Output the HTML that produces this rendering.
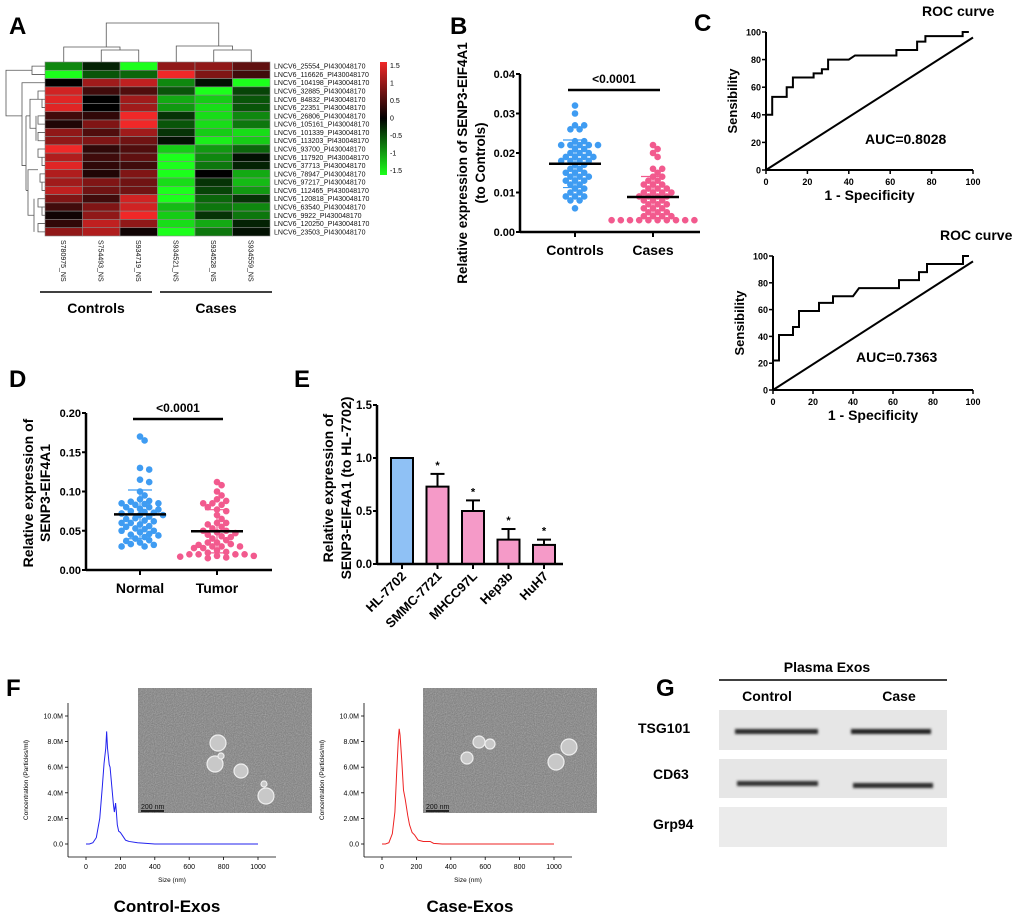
<!DOCTYPE html>
<html><head><meta charset="utf-8"><style>
body{margin:0;background:#fff}
svg{display:block;font-family:"Liberation Sans",Arial,sans-serif}
.b{font-weight:bold}
</style></head><body>
<svg id="fig" width="1020" height="919" viewBox="0 0 1020 919" xmlns="http://www.w3.org/2000/svg">
<defs>
<filter id="noise" x="0" y="0" width="100%" height="100%"><feTurbulence type="fractalNoise" baseFrequency="0.9" numOctaves="2" seed="3"/><feColorMatrix type="saturate" values="0"/><feComponentTransfer><feFuncR type="linear" slope="0.6" intercept="0.2"/><feFuncG type="linear" slope="0.6" intercept="0.2"/><feFuncB type="linear" slope="0.6" intercept="0.2"/></feComponentTransfer></filter>
<linearGradient id="cbar" x1="0" y1="0" x2="0" y2="1"><stop offset="0" stop-color="#f02828"/><stop offset="0.5" stop-color="#000"/><stop offset="1" stop-color="#1cff1c"/></linearGradient>
<filter id="blur"><feGaussianBlur stdDeviation="1.2"/></filter>
</defs>
<text x="9" y="34" font-size="24" class="b">A</text>
<text x="450" y="34" font-size="24" class="b">B</text>
<text x="694" y="31" font-size="24" class="b">C</text>
<text x="9" y="387" font-size="24" class="b">D</text>
<text x="294" y="387" font-size="24" class="b">E</text>
<text x="6" y="696" font-size="24" class="b">F</text>
<text x="656" y="696" font-size="24" class="b">G</text>

<g id="pA"></g>
<g id="pB"></g>
<g id="pC"></g>
<g id="pD"></g>
<g id="pE"></g>
<g id="pF"></g>

<g>
<text x="827" y="672" font-size="14" class="b" text-anchor="middle">Plasma Exos</text>
<line x1="719" y1="680" x2="947" y2="680" stroke="#000" stroke-width="1.5"/>
<text x="767" y="701" font-size="14" class="b" text-anchor="middle">Control</text>
<text x="899" y="701" font-size="14" class="b" text-anchor="middle">Case</text>
<text x="638" y="733" font-size="14" class="b">TSG101</text>
<text x="653" y="779" font-size="14" class="b">CD63</text>
<text x="653" y="829" font-size="14" class="b">Grp94</text>
<rect x="719" y="710" width="228" height="40" fill="#e6e6e6"/>
<rect x="719" y="759" width="228" height="39" fill="#e6e6e6"/>
<rect x="719" y="807" width="228" height="40" fill="#ebebeb"/>
<g filter="url(#blur)">
<rect x="735" y="729" width="83" height="5" fill="#2a2a2a"/>
<rect x="851" y="729" width="80" height="5" fill="#222"/>
<rect x="737" y="781" width="81" height="5" fill="#333"/>
<rect x="853" y="783" width="80" height="5" fill="#2a2a2a"/>
</g>
</g>

<script>
var svg=document.getElementById('fig');
var NS='http://www.w3.org/2000/svg';
function mk(parent,tag,attrs,name){
  var el=document.createElementNS(NS,tag);
  for(var k in attrs) el.setAttribute(k,attrs[k]);
  
  
  parent.appendChild(el);return el;
}
function txt(parent,x,y,s,size,opts,name){
  var a={x:x,y:y,'font-size':size};
  for(var k in (opts||{})) a[k]=opts[k];
  var t=mk(parent,'text',a,name);t.textContent=s;return t;
}
function line(p,x1,y1,x2,y2,w,name,col){return mk(p,'line',{x1:x1,y1:y1,x2:x2,y2:y2,stroke:col||'#000','stroke-width':w||1},name);}
</script>

<script>
// ===== Panel A heatmap data =====
var heatGenes=['25554','116626','104198','32885','84832','22351','26806','105161','101339','113203','93700','117920','37713','78947','97217','112465','120818','63540','9922','120250','23503'];
var heatSamples=['S780975_NS','S754493_NS','S934719_NS','S934521_NS','S934528_NS','S934559_NS'];
var heatValues=[
[-0.8,-0.2,-1.5,0.9,0.9,0.6],
[-1.5,-0.5,-0.6,1.5,0.8,0.4],
[0,1,1.2,-0.8,-0.1,-1.5],
[1.3,0.4,0.5,-0.5,-1.5,-0.4],
[1.4,0,1,-1,-1.2,-0.5],
[1.4,0,1,-0.9,-1.3,-0.5],
[0.4,0.3,1.5,-0.3,-1.3,-0.8],
[0.2,0.8,1.5,-0.5,-1.3,-0.7],
[0.9,0.5,1.0,-0.3,-1.2,-1.3],
[0.9,0.8,0.7,-0.1,-1.4,-1.2],
[1.5,0.3,0.5,-1.2,-0.9,-0.6],
[1.1,0.4,0.6,-1.5,-0.8,-0.1],
[1.4,0.3,0.4,-1.5,-0.7,-0.2],
[1.1,0.2,0.8,-1.5,0,-1.0],
[1.0,0.8,0.7,-1.3,-0.3,-1.1],
[1.2,0.7,0.7,-1.5,-0.4,-0.9],
[0.8,0.4,1.3,-1.5,-0.6,-0.3],
[0.4,0.8,1.3,-1.1,-0.7,-0.8],
[0.1,0.9,1.5,-1.2,-0.3,-0.7],
[0.3,1.2,0.9,-1.3,-1.0,-0.2],
[0.9,1.1,0.1,-1.5,-0.7,-0.1]];
var colorTicks=['1.5','1','0.5','0','-0.5','-1','-1.5'];
(function(){
var g=document.getElementById('pA');
var x0=45,y0=62,cw=37.5,rh=(236-62)/21;
function col(v){var t=Math.max(-1,Math.min(1,v/1.5));
 if(t>=0) return 'rgb('+Math.round(240*t)+','+Math.round(40*t)+','+Math.round(40*t)+')';
 t=-t;return 'rgb('+Math.round(28*t)+','+Math.round(255*t)+','+Math.round(28*t)+')';}
heatValues.forEach(function(row,i){
 row.forEach(function(v,j){
  mk(g,'rect',{x:x0+j*cw,y:y0+i*rh,width:cw,height:rh,fill:col(v),stroke:'#888','stroke-width':0.6},'heatmap-cell');
 });
 txt(g,274,y0+i*rh+rh/2+2.5,'LNCV6_'+heatGenes[i]+'_PI430048170',7,{fill:'#111'},'gene-label');
});
heatSamples.forEach(function(s,j){
 var cx=x0+j*cw+cw/2;
 txt(g,cx-3,240,s,7,{transform:'rotate(90 '+(cx-3)+' 240)',fill:'#111'},'sample-label');
});
mk(g,'rect',{x:380,y:62,width:7,height:113,fill:'url(#cbar)'},'color-scale-bar');
colorTicks.forEach(function(s,i){txt(g,390,68+i*17.5,s,7,{},'color-scale-tick');});
var cx=function(j){return x0+j*cw+cw/2;};
var P='M'+cx(1)+' 62V50H'+cx(2)+'V62 M'+cx(0)+' 62V47H'+((cx(1)+cx(2))/2)+'V50 M'+cx(4)+' 62V50H'+cx(5)+'V62 M'+cx(3)+' 62V46H'+((cx(4)+cx(5))/2)+'V50 M'+((cx(0)+cx(1)+cx(2))/3+5)+' 47V23H'+((cx(3)+cx(4)+cx(5))/3+5)+'V46';
mk(g,'path',{d:P,fill:'none',stroke:'#555','stroke-width':0.8},'column-dendrogram');
var ry=function(i){return y0+i*rh+rh/2;};
var L='M45 '+ry(0)+'H32V'+ry(1)+'H45 M32 '+((ry(0)+ry(1))/2)+'H6V'+ry(6)+'H22 M45 '+ry(2)+'H22V'+ry(12)+'H26';
var pairs=[[3,4,38],[4,5,42],[6,7,38],[8,9,38],[10,11,38],[11,12,42],[13,14,40],[14,15,42],[16,17,38],[17,18,42],[19,20,38]];
pairs.forEach(function(p){L+=' M45 '+ry(p[0])+'H'+p[2]+'V'+ry(p[1])+'H45';});
L+=' M38 '+((ry(3)+ry(5))/2)+'H30V'+((ry(6)+ry(9))/2)+'H36 M36 '+ry(6)+'V'+ry(9)+' M38 '+((ry(10)+ry(15))/2)+'H28V'+((ry(16)+ry(20))/2)+'H34 M34 '+ry(16)+'V'+ry(20)+' M26 '+((ry(3)+ry(9))/2)+'V'+((ry(10)+ry(20))/2)+' M30 '+((ry(3)+ry(9))/2)+'H26 M28 '+((ry(10)+ry(20))/2)+'H26';
mk(g,'path',{d:L,fill:'none',stroke:'#555','stroke-width':0.8},'row-dendrogram');
line(g,40,292,152,292,1.5,'controls-group-line');
line(g,160,292,272,292,1.5,'cases-group-line');
txt(g,96,313,'Controls',14,{'font-weight':'bold','text-anchor':'middle'},'controls-group-label');
txt(g,216,313,'Cases',14,{'font-weight':'bold','text-anchor':'middle'},'cases-group-label');
})();
</script>

<script>
// ===== Scatter data (B & D) =====
var bCategories=['Controls','Cases'];
var bControls=[0.032,0.030,0.027,0.027,0.026,0.026,0.023,0.023,0.022,0.022,0.022,0.022,0.022,0.021,0.021,0.020,0.020,0.020,0.019,0.019,0.019,0.019,0.018,0.018,0.018,0.018,0.017,0.017,0.016,0.016,0.015,0.015,0.015,0.014,0.014,0.014,0.013,0.013,0.013,0.012,0.012,0.011,0.011,0.010,0.010,0.009,0.009,0.009,0.008,0.008,0.006];
var bCases=[0.022,0.021,0.020,0.019,0.016,0.016,0.015,0.014,0.014,0.013,0.013,0.012,0.012,0.012,0.011,0.011,0.011,0.010,0.010,0.010,0.010,0.009,0.009,0.009,0.009,0.008,0.008,0.008,0.007,0.007,0.007,0.006,0.006,0.006,0.005,0.005,0.005,0.004,0.004,0.004,0.004,0.003,0.003,0.003,0.003,0.003,0.003,0.003,0.003,0.003,0.003];
var bTicks=[0,0.01,0.02,0.03,0.04];
var bTickLabels=['0.00','0.01','0.02','0.03','0.04'];
var dCategories=['Normal','Tumor'];
var dNormal=[0.17,0.165,0.13,0.128,0.115,0.112,0.10,0.095,0.09,0.088,0.087,0.085,0.085,0.084,0.083,0.08,0.08,0.078,0.077,0.075,0.074,0.073,0.072,0.07,0.07,0.068,0.066,0.065,0.063,0.062,0.06,0.06,0.058,0.056,0.055,0.053,0.052,0.05,0.05,0.048,0.046,0.045,0.044,0.042,0.04,0.038,0.037,0.035,0.033,0.032,0.03,0.03];
var dTumor=[0.112,0.108,0.10,0.095,0.09,0.088,0.085,0.085,0.083,0.08,0.077,0.075,0.07,0.065,0.06,0.06,0.058,0.055,0.053,0.05,0.05,0.048,0.047,0.045,0.043,0.042,0.04,0.038,0.035,0.035,0.033,0.032,0.03,0.03,0.03,0.028,0.028,0.025,0.023,0.022,0.02,0.02,0.02,0.02,0.018,0.018,0.017,0.016,0.015];
var dTicks=[0,0.05,0.10,0.15,0.20];
var dTickLabels=['0.00','0.05','0.10','0.15','0.20'];

function scatterPanel(g,cfg){
 var y=function(v){return cfg.y0-(v-cfg.min)/(cfg.max-cfg.min)*(cfg.y0-cfg.y1);};
 line(g,cfg.ax,cfg.y1,cfg.ax,cfg.y0,2.5,'y-axis');
 line(g,cfg.ax,cfg.y0,cfg.ax2,cfg.y0,2.5,'x-axis');
 cfg.ticks.forEach(function(t,i){
  line(g,cfg.ax-4,y(t),cfg.ax,y(t),2,'y-tick');
  txt(g,cfg.ax-5,y(t)+4,cfg.tickLabels[i],11,{'font-weight':'bold','text-anchor':'end'},'y-tick-label');
 });
 cfg.series.forEach(function(s,k){
  var cx=cfg.cx[k];
  line(g,cx,cfg.y0,cx,cfg.y0+5,2,'x-tick');
  txt(g,cx,cfg.y0+23,cfg.cats[k],14,{'font-weight':'bold','text-anchor':'middle'},'x-category-label');
  var vals=s.slice().sort(function(a,b){return b-a;});
  var placed=[],r=3.3,md=5.2;
  vals.forEach(function(v){
   var py=y(v),off=0;
   for(var n=0;n<30;n++){
    off=(n%2?1:-1)*Math.ceil(n/2)*4.6;
    var ok=placed.every(function(p){var dx=p[0]-off,dy=p[1]-py;return dx*dx+dy*dy>=md*md;});
    if(ok)break;
   }
   placed.push([off,py]);
   mk(g,'circle',{cx:cx+off,cy:py,r:r,fill:cfg.colors[k]},'data-point');
  });
  var m=s.reduce(function(a,b){return a+b;},0)/s.length;
  var sd=Math.sqrt(s.reduce(function(a,b){return a+(b-m)*(b-m);},0)/(s.length-1));
  line(g,cx,y(m+sd),cx,y(m-sd),1.2,'sd-bar',cfg.colors[k]);
  line(g,cx-12,y(m+sd),cx+12,y(m+sd),1.2,'sd-cap',cfg.colors[k]);
  line(g,cx-12,y(m-sd),cx+12,y(m-sd),1.2,'sd-cap',cfg.colors[k]);
  line(g,cx-26,y(m),cx+26,y(m),2.5,'mean-line');
 });
 line(g,cfg.sig[0],cfg.sig[2],cfg.sig[1],cfg.sig[2],2.5,'significance-line');
 txt(g,(cfg.sig[0]+cfg.sig[1])/2,cfg.sig[2]-7,'<0.0001',12,{'font-weight':'bold','text-anchor':'middle'},'p-value-label');
}
scatterPanel(document.getElementById('pB'),{ax:520,ax2:700,y0:232,y1:74,min:0,max:0.04,ticks:bTicks,tickLabels:bTickLabels,cx:[575,653],cats:bCategories,series:[bControls,bCases],colors:['#3f9cf2','#f25a8e'],sig:[568,660,90]});
scatterPanel(document.getElementById('pD'),{ax:86,ax2:272,y0:570,y1:413,min:0,max:0.2,ticks:dTicks,tickLabels:dTickLabels,cx:[140,217],cats:dCategories,series:[dNormal,dTumor],colors:['#3f9cf2','#f25a8e'],sig:[133,223,419]});
(function(){
 var g=document.getElementById('pB');
 txt(g,0,0,'Relative expression of SENP3-EIF4A1',13.5,{'font-weight':'bold','text-anchor':'middle',transform:'translate(467,163) rotate(-90)'},'y-axis-title');
 txt(g,0,0,'(to Controls)',13.5,{'font-weight':'bold','text-anchor':'middle',transform:'translate(485,163) rotate(-90)'},'y-axis-title-line2');
 var d=document.getElementById('pD');
 txt(d,0,0,'Relative expression of',14,{'font-weight':'bold','text-anchor':'middle',transform:'translate(33,493) rotate(-90)'},'y-axis-title');
 txt(d,0,0,'SENP3-EIF4A1',14,{'font-weight':'bold','text-anchor':'middle',transform:'translate(50,493) rotate(-90)'},'y-axis-title-line2');
})();
</script>

<script>
// ===== Panel C ROC =====
var rocTicks=[0,20,40,60,80,100];
var roc1Fpr=[0,0,3,3,10,10,13,13,23,23,27,27,30,30,40,43,63,63,73,73,77,77,95,95,98];
var roc1Tpr=[0,40,40,53,53,60,60,67,67,70,70,73,73,80,80,83,83,87,87,93,93,97,97,100,100];
var roc2Fpr=[0,0,3,3,10,10,13,13,23,23,30,30,40,43,63,63,73,73,77,77,95,95,98];
var roc2Tpr=[0,22,22,41,41,47,47,59,59,65,65,70,70,76,76,82,82,88,88,94,94,100,100];
function rocPanel(g,o,fpr,tpr,auc){
 var sx=function(v){return o.x0+v/100*(o.x1-o.x0);},sy=function(v){return o.y0-v/100*(o.y0-o.y1);};
 line(g,o.x0,o.y1,o.x0,o.y0,2,'y-axis');line(g,o.x0,o.y0,o.x1,o.y0,2,'x-axis');
 rocTicks.forEach(function(t){
  line(g,o.x0-4,sy(t),o.x0,sy(t),1.5,'y-tick');
  txt(g,o.x0-5,sy(t)+3.5,String(t),9,{'font-weight':'bold','text-anchor':'end'},'y-tick-label');
  line(g,sx(t),o.y0,sx(t),o.y0+4,1.5,'x-tick');
  txt(g,sx(t),o.y0+15,String(t),9,{'font-weight':'bold','text-anchor':'middle'},'x-tick-label');
 });
 line(g,sx(0),sy(0),sx(100),sy(96),2,'reference-diagonal');
 var d=fpr.map(function(f,i){return (i?'L':'M')+sx(f)+' '+sy(tpr[i]);}).join('');
 mk(g,'path',{d:d,fill:'none',stroke:'#000','stroke-width':2},'roc-curve');
 txt(g,o.x0+(o.x1-o.x0)*0.5,o.y0+30,'1 - Specificity',14,{'font-weight':'bold','text-anchor':'middle'},'x-axis-title');
 txt(g,0,0,'Sensibility',13,{'font-weight':'bold','text-anchor':'middle',transform:'translate('+(o.x0-29)+','+((o.y0+o.y1)/2)+') rotate(-90)'},'y-axis-title');
 txt(g,o.aucx,o.aucy,'AUC='+auc,14,{'font-weight':'bold'},'auc-label');
 txt(g,o.tx,o.ty,'ROC curve',14,{'font-weight':'bold'},'roc-title');
}
rocPanel(document.getElementById('pC'),{x0:766,x1:973,y0:170,y1:32,aucx:865,aucy:144,tx:922,ty:16},roc1Fpr,roc1Tpr,'0.8028');
rocPanel(document.getElementById('pC'),{x0:773,x1:973,y0:390,y1:256,aucx:856,aucy:362,tx:940,ty:240},roc2Fpr,roc2Tpr,'0.7363');
</script>

<script>
// ===== Panel E bars =====
var eCategories=['HL-7702','SMMC-7721','MHCC97L','Hep3b','HuH7'];
var eValues=[1.0,0.73,0.50,0.23,0.18];
var eErrors=[0,0.12,0.10,0.10,0.05];
var eTicks=[0,0.5,1.0,1.5];
var eTickLabels=['0.0','0.5','1.0','1.5'];
(function(){
 var g=document.getElementById('pE');
 var ax=377,y0=564,y1=405,y=function(v){return y0-v/1.5*(y0-y1);};
 eCategories.forEach(function(c,i){
  var cx=402+i*35.5,h=eValues[i];
  if(eErrors[i]){
   line(g,cx,y(h),cx,y(h+eErrors[i]),2,'error-bar');
   line(g,cx-7,y(h+eErrors[i]),cx+7,y(h+eErrors[i]),2,'error-cap');
   txt(g,cx,y(h+eErrors[i])-5,'*',11,{'font-weight':'bold','text-anchor':'middle'},'significance-star');
  }
  mk(g,'rect',{x:cx-11,y:y(h),width:22,height:y0-y(h),fill:i?'#f59ac8':'#8fc1f5',stroke:'#000','stroke-width':2},'bar-'+c.toLowerCase());
  line(g,cx,y0,cx,y0+5,2,'x-tick');
  txt(g,0,0,c,13,{'font-weight':'bold','text-anchor':'end',transform:'translate('+(cx+5)+','+(y0+13)+') rotate(-45)'},'x-category-label');
 });
 line(g,ax,y1,ax,y0,2.5,'y-axis');line(g,ax,y0,563,y0,2.5,'x-axis');
 eTicks.forEach(function(t,i){
  line(g,ax-4,y(t),ax,y(t),2,'y-tick');
  txt(g,ax-5,y(t)+4,eTickLabels[i],11.5,{'font-weight':'bold','text-anchor':'end'},'y-tick-label');
 });
 txt(g,0,0,'Relative expression of',14,{'font-weight':'bold','text-anchor':'middle',transform:'translate(333,488) rotate(-90)'},'y-axis-title');
 txt(g,0,0,'SENP3-EIF4A1 (to HL-7702)',14,{'font-weight':'bold','text-anchor':'middle',transform:'translate(351,488) rotate(-90)'},'y-axis-title-line2');
})();
</script>

<script>
// ===== Panel F NTA =====
var ntaTicksX=[0,200,400,600,800,1000];
var ntaTicksY=[0,2,4,6,8,10];
var ntaTickLabelsY=['0.0','2.0M','4.0M','6.0M','8.0M','10.0M'];
var ctrlSize=[0,20,40,60,80,95,105,115,120,125,135,140,150,160,165,172,176,182,190,200,215,230,250,300,350,400,600,800,1000];
var ctrlConc=[0,0,0.1,0.5,2,4.5,6.3,7.5,8.8,7.5,6.2,6,4.5,3,2.5,3.2,2.6,1.5,1,0.9,0.6,0.3,0.2,0.1,0.05,0,0,0,0];
var caseSize=[0,20,40,60,75,85,95,100,105,115,125,135,150,160,175,190,210,240,280,300,350,400,600,800,1000];
var caseConc=[0,0,0.1,0.8,2.5,5.5,8.2,9,8.5,6.5,4.2,3.5,2.2,1.5,0.9,0.7,0.3,0.2,0.2,0.05,0,0,0,0,0];
function ntaPanel(g,o,sz,cc,color,title){
 var sx=function(v){return o.x0+v/1000*(o.x1-o.x0);},sy=function(v){return o.y0-v/10*(o.y0-o.y10);};
 line(g,o.ax,703,o.ax,857,0.8,'y-axis');line(g,o.ax,857,o.ax+208,857,0.8,'x-axis');
 ntaTicksX.forEach(function(t){line(g,sx(t),857,sx(t),860,0.8,'x-tick');txt(g,sx(t),869,String(t),7,{'text-anchor':'middle'},'x-tick-label');});
 ntaTicksY.forEach(function(t,i){line(g,o.ax-3,sy(t),o.ax,sy(t),0.8,'y-tick');txt(g,o.ax-5,sy(t)+2.5,ntaTickLabelsY[i],7,{'text-anchor':'end'},'y-tick-label');});
 txt(g,(o.x0+o.x1)/2,882,'Size (nm)',6.5,{'text-anchor':'middle'},'x-axis-title');
 txt(g,0,0,'Concentration (Particles/ml)',6.5,{'text-anchor':'middle',transform:'translate('+(o.ax-40)+',780) rotate(-90)'},'y-axis-title');
 var d=sz.map(function(s,i){return (i?'L':'M')+sx(s)+' '+sy(cc[i]);}).join('');
 mk(g,'path',{d:d,fill:'none',stroke:color,'stroke-width':1},'size-distribution-line');
 txt(g,o.tcx,912,title,17,{'font-weight':'bold','text-anchor':'middle'},'condition-title');
 mk(g,'rect',{x:o.ix,y:688,width:174,height:125,fill:'#777'},'tem-image');
 mk(g,'rect',{x:o.ix,y:688,width:174,height:125,filter:'url(#noise)',opacity:0.7},'tem-texture');
 o.blobs.forEach(function(b){mk(g,'circle',{cx:o.ix+b[0],cy:688+b[1],r:b[2],fill:'#c8c8c8',stroke:'#eee','stroke-width':1.2},'vesicle');});
 line(g,o.ix+3,811,o.ix+26,811,1.5,'scale-bar');
 txt(g,o.ix+3,809,'200 nm',7,{fill:'#111'},'scale-bar-label');
}
ntaPanel(document.getElementById('pF'),{ax:68,x0:86,x1:258,y0:844,y10:716,ix:138,tcx:167,blobs:[[80,55,8],[77,76,8],[103,83,7],[128,108,8],[83,68,3],[126,96,3]]},ctrlSize,ctrlConc,'#2222ee','Control-Exos');
ntaPanel(document.getElementById('pF'),{ax:364,x0:382,x1:554,y0:844,y10:716,ix:423,tcx:470,blobs:[[56,54,6],[67,56,5],[44,70,6],[133,74,8],[146,59,8]]},caseSize,caseConc,'#ee2222','Case-Exos');
</script>
</svg>
</body></html>
